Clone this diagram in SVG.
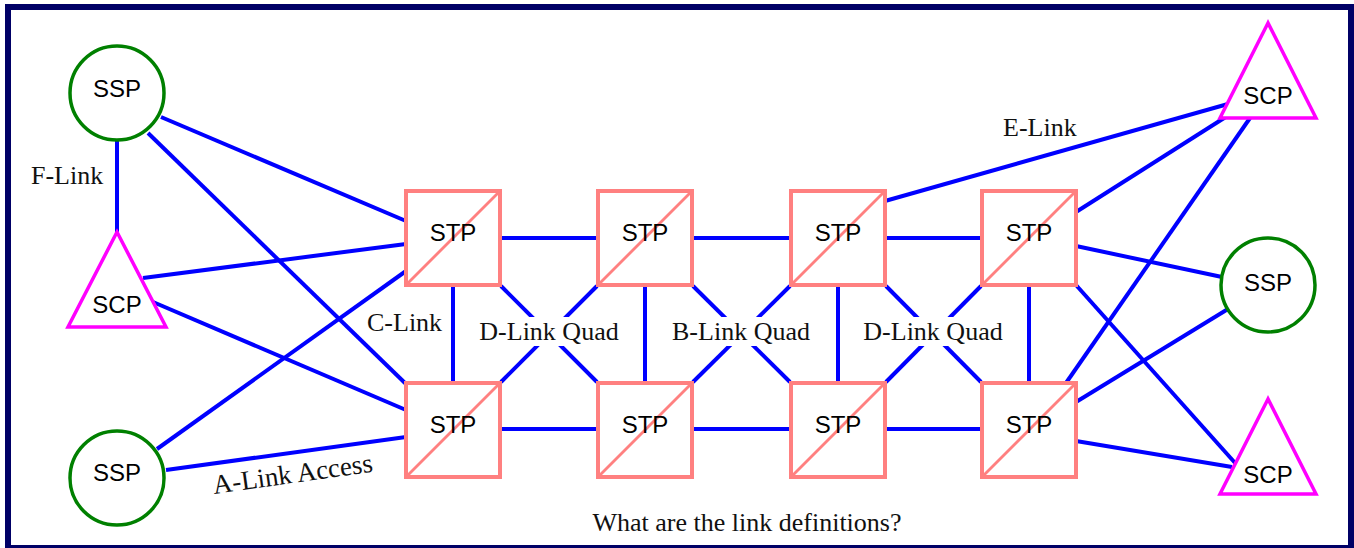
<svg xmlns="http://www.w3.org/2000/svg" width="1354" height="548" viewBox="0 0 1354 548">
<style>
.frame{fill:#fff;stroke:#000066;stroke-width:6}
.ln{stroke:#0000ff;stroke-width:4;fill:none}
.ssp{fill:#fff;stroke:#008000;stroke-width:3.5}
.scp{fill:#fff;stroke:#ff00ff;stroke-width:3.5;stroke-linejoin:miter}
.stp{fill:#fff;stroke:#ff8080;stroke-width:4}
.diag{stroke:#ff8080;stroke-width:2.8}
.nt{font-family:"Liberation Sans",Arial,sans-serif;font-size:24px;fill:#000;text-anchor:middle}
.lb{font-family:"Liberation Serif","Times New Roman",serif;font-size:26px;fill:#111}
.bg{fill:#fff}
</style>
<rect class="frame" x="8" y="7" width="1343" height="541"/>
<g id="connectors">
<line class="ln" x1="117" y1="140" x2="117" y2="232"/>
<line class="ln" x1="161" y1="117" x2="406" y2="221"/>
<line class="ln" x1="148" y1="133" x2="406" y2="384"/>
<line class="ln" x1="143" y1="278" x2="406" y2="244"/>
<line class="ln" x1="153" y1="302" x2="406" y2="410"/>
<line class="ln" x1="157" y1="449" x2="406" y2="271"/>
<line class="ln" x1="166" y1="470" x2="406" y2="437"/>
<line class="ln" x1="500" y1="238" x2="598" y2="238"/>
<line class="ln" x1="692" y1="238" x2="791" y2="238"/>
<line class="ln" x1="885" y1="238" x2="982" y2="238"/>
<line class="ln" x1="500" y1="429" x2="598" y2="429"/>
<line class="ln" x1="692" y1="429" x2="791" y2="429"/>
<line class="ln" x1="885" y1="429" x2="982" y2="429"/>
<line class="ln" x1="453" y1="285" x2="453" y2="383"/>
<line class="ln" x1="645" y1="285" x2="645" y2="383"/>
<line class="ln" x1="838" y1="285" x2="838" y2="383"/>
<line class="ln" x1="1029" y1="285" x2="1029" y2="383"/>
<line class="ln" x1="501" y1="286" x2="597" y2="382"/>
<line class="ln" x1="597" y1="286" x2="501" y2="382"/>
<line class="ln" x1="693" y1="286" x2="790" y2="382"/>
<line class="ln" x1="790" y1="286" x2="693" y2="382"/>
<line class="ln" x1="886" y1="286" x2="981" y2="382"/>
<line class="ln" x1="981" y1="286" x2="886" y2="382"/>
<line class="ln" x1="885" y1="201" x2="1228" y2="104"/>
<line class="ln" x1="1076" y1="212" x2="1232" y2="113"/>
<line class="ln" x1="1066" y1="383" x2="1250" y2="118"/>
<line class="ln" x1="1076" y1="246" x2="1222" y2="277"/>
<line class="ln" x1="1076" y1="285" x2="1236" y2="464"/>
<line class="ln" x1="1076" y1="402" x2="1228" y2="309"/>
<line class="ln" x1="1076" y1="441" x2="1232" y2="467"/>
</g>
<g id="labels">
<text class="lb" x="31" y="184">F-Link</text>
<text class="lb" x="367" y="331">C-Link</text>
<rect class="bg" x="477" y="317" width="144" height="29"/>
<text class="lb" x="549" y="340" text-anchor="middle">D-Link Quad</text>
<rect class="bg" x="670" y="317" width="142" height="29"/>
<text class="lb" x="741" y="340" text-anchor="middle">B-Link Quad</text>
<rect class="bg" x="861" y="317" width="144" height="29"/>
<text class="lb" x="933" y="340" text-anchor="middle">D-Link Quad</text>
<text class="lb" x="1003" y="136">E-Link</text>
<text class="lb" x="214" y="494" style="font-size:27px" transform="rotate(-8 214 494)">A-Link Access</text>
<text class="lb" x="747" y="531" text-anchor="middle">What are the link definitions?</text>
</g>
<g id="ssp-tl"><circle class="ssp" cx="117" cy="93" r="47"/><text class="nt" x="117" y="97">SSP</text></g>
<g id="scp-l"><polygon class="scp" points="117,232 68,327 166,327"/><text class="nt" x="117" y="313">SCP</text></g>
<g id="ssp-bl"><circle class="ssp" cx="117" cy="478" r="47"/><text class="nt" x="117" y="481">SSP</text></g>
<g id="stp1"><rect class="stp" x="406" y="191" width="94" height="94"/><line class="diag" x1="406" y1="285" x2="500" y2="191"/><text class="nt" x="453" y="241">STP</text></g>
<g id="stp2"><rect class="stp" x="598" y="191" width="94" height="94"/><line class="diag" x1="598" y1="285" x2="692" y2="191"/><text class="nt" x="645" y="241">STP</text></g>
<g id="stp3"><rect class="stp" x="791" y="191" width="94" height="94"/><line class="diag" x1="791" y1="285" x2="885" y2="191"/><text class="nt" x="838" y="241">STP</text></g>
<g id="stp4"><rect class="stp" x="982" y="191" width="94" height="94"/><line class="diag" x1="982" y1="285" x2="1076" y2="191"/><text class="nt" x="1029" y="241">STP</text></g>
<g id="stp5"><rect class="stp" x="406" y="383" width="94" height="94"/><line class="diag" x1="406" y1="477" x2="500" y2="383"/><text class="nt" x="453" y="433">STP</text></g>
<g id="stp6"><rect class="stp" x="598" y="383" width="94" height="94"/><line class="diag" x1="598" y1="477" x2="692" y2="383"/><text class="nt" x="645" y="433">STP</text></g>
<g id="stp7"><rect class="stp" x="791" y="383" width="94" height="94"/><line class="diag" x1="791" y1="477" x2="885" y2="383"/><text class="nt" x="838" y="433">STP</text></g>
<g id="stp8"><rect class="stp" x="982" y="383" width="94" height="94"/><line class="diag" x1="982" y1="477" x2="1076" y2="383"/><text class="nt" x="1029" y="433">STP</text></g>
<g id="scp-tr"><polygon class="scp" points="1268,23 1220,118 1316,118"/><text class="nt" x="1268" y="104">SCP</text></g>
<g id="ssp-r"><circle class="ssp" cx="1268" cy="285" r="47"/><text class="nt" x="1268" y="291">SSP</text></g>
<g id="scp-br"><polygon class="scp" points="1268,399 1220,494 1316,494"/><text class="nt" x="1268" y="483">SCP</text></g>
</svg>
